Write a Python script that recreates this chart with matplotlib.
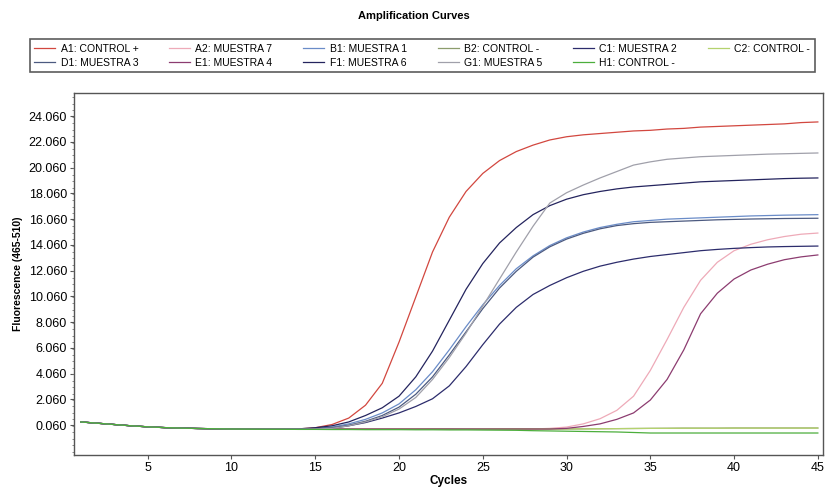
import numpy as np
import matplotlib
matplotlib.use('Agg')
import matplotlib.pyplot as plt
from matplotlib.ticker import FixedLocator, FuncFormatter, MultipleLocator

plt.rcParams['font.family'] = ['Liberation Sans Narrow', 'Liberation Sans', 'DejaVu Sans']

cycles = list(range(1, 46))

# fluorescence values per cycle (1..45)
a1_control_pos = [300, 200, 100, 0, -80, -140, -180, -210, -230, -250,
                  -250, -250, -250, -240, -150, 100, 600, 1600, 3300, 6500,
                  10000, 13500, 16200, 18200, 19600, 20600, 21300, 21800, 22200, 22450,
                  22600, 22700, 22800, 22900, 22950, 23050, 23100, 23200, 23250, 23300,
                  23350, 23400, 23450, 23550, 23600]
a2_muestra7 = [300, 200, 100, 0, -80, -140, -180, -210, -230, -250,
               -250, -250, -250, -250, -250, -250, -250, -250, -250, -250,
               -250, -250, -250, -250, -250, -250, -250, -250, -200, -100,
               150, 550, 1200, 2300, 4300, 6700, 9200, 11300, 12700, 13600,
               14100, 14450, 14700, 14880, 14970]
b1_muestra1 = [300, 200, 100, 0, -80, -140, -180, -210, -230, -250,
               -250, -250, -250, -250, -200, -100, 150, 500, 1000, 1700,
               2800, 4200, 5900, 7700, 9400, 10900, 12200, 13200, 14000, 14600,
               15050, 15400, 15650, 15850, 15950, 16050, 16100, 16150, 16200, 16250,
               16300, 16330, 16360, 16380, 16400]
b2_control_neg = [300, 200, 100, 0, -80, -140, -180, -210, -230, -250,
                  -250, -260, -260, -250, -250, -250, -260, -260, -250, -250,
                  -250, -240, -240, -250, -250, -240, -230, -240, -250, -250,
                  -240, -230, -220, -210, -200, -190, -180, -180, -180, -170,
                  -170, -170, -170, -170, -170]
c1_muestra2 = [300, 200, 100, 0, -80, -140, -180, -210, -230, -250,
               -250, -250, -250, -250, -250, -200, 0, 250, 600, 1000,
               1500, 2100, 3100, 4600, 6300, 7900, 9200, 10200, 10900, 11500,
               12000, 12400, 12700, 12950, 13150, 13300, 13450, 13600, 13700, 13780,
               13840, 13890, 13920, 13940, 13960]
c2_control_neg = [300, 200, 100, 0, -80, -140, -180, -210, -230, -250,
                  -260, -260, -260, -270, -270, -260, -260, -270, -270, -260,
                  -260, -260, -270, -270, -260, -250, -250, -250, -250, -240,
                  -240, -230, -220, -210, -200, -200, -190, -190, -190, -180,
                  -180, -180, -180, -180, -180]
d1_muestra3 = [300, 200, 100, 0, -80, -140, -180, -210, -230, -250,
               -250, -250, -250, -250, -220, -150, 50, 350, 800, 1450,
               2450, 3800, 5500, 7300, 9100, 10700, 12000, 13100, 13900, 14500,
               14950, 15300, 15550, 15700, 15800, 15850, 15900, 15950, 16000, 16030,
               16060, 16080, 16100, 16110, 16120]
e1_muestra4 = [300, 200, 100, 0, -80, -140, -180, -210, -230, -250,
               -250, -250, -250, -250, -250, -250, -250, -250, -250, -250,
               -250, -250, -250, -250, -250, -250, -250, -250, -250, -200,
               -50, 150, 500, 1000, 2000, 3600, 5900, 8700, 10300, 11400,
               12100, 12550, 12900, 13120, 13270]
f1_muestra6 = [300, 200, 100, 0, -80, -140, -180, -210, -230, -250,
               -250, -250, -250, -240, -150, 0, 300, 800, 1400, 2300,
               3800, 5800, 8200, 10600, 12600, 14200, 15400, 16400, 17100, 17600,
               17950, 18200, 18400, 18550, 18650, 18750, 18850, 18950, 19000, 19050,
               19100, 19150, 19200, 19230, 19250]
g1_muestra5 = [300, 200, 100, 0, -80, -140, -180, -210, -230, -250,
               -250, -250, -250, -250, -250, -200, 0, 300, 700, 1300,
               2200, 3600, 5300, 7200, 9300, 11400, 13500, 15500, 17300, 18100,
               18700, 19250, 19750, 20250, 20500, 20700, 20800, 20900, 20950, 21000,
               21050, 21100, 21130, 21160, 21190]
h1_control_neg = [300, 200, 100, 0, -80, -140, -180, -210, -230, -250,
                  -260, -270, -270, -280, -280, -290, -290, -300, -300, -300,
                  -310, -310, -320, -320, -330, -340, -350, -380, -400, -420,
                  -440, -460, -480, -520, -560, -560, -560, -560, -560, -560,
                  -560, -560, -560, -560, -560]

series = [
    ('A1: CONTROL +', a1_control_pos, '#d2473f'),
    ('A2: MUESTRA 7', a2_muestra7, '#eeaab8'),
    ('B1: MUESTRA 1', b1_muestra1, '#6a8cc8'),
    ('B2: CONTROL -', b2_control_neg, '#8c9c6c'),
    ('C1: MUESTRA 2', c1_muestra2, '#2c2c6c'),
    ('C2: CONTROL -', c2_control_neg, '#b4d26e'),
    ('D1: MUESTRA 3', d1_muestra3, '#4c5a80'),
    ('E1: MUESTRA 4', e1_muestra4, '#8c3c70'),
    ('F1: MUESTRA 6', f1_muestra6, '#24245e'),
    ('G1: MUESTRA 5', g1_muestra5, '#a0a0aa'),
    ('H1: CONTROL -', h1_control_neg, '#4cae3c'),
]

y_ticks = [60 + 2000 * i for i in range(13)]
x_ticks = [5, 10, 15, 20, 25, 30, 35, 40, 45]

fig = plt.figure(figsize=(8.27, 4.98), dpi=100)
ax = fig.add_axes([0.0895, 0.0863, 0.9055, 0.727])

handles = {}
for name, vals, color in series:
    line, = ax.plot(cycles, vals, color=color, lw=0.9, label=name)
    handles[name] = line

ax.set_xlim(0.6, 45.3)
ax.set_ylim(-2270, 25850)
ax.yaxis.set_major_locator(FixedLocator(y_ticks))
ax.yaxis.set_major_formatter(FuncFormatter(lambda v, p: f'{v / 1000:.3f}'))
ax.yaxis.set_minor_locator(MultipleLocator(500))
ax.xaxis.set_major_locator(FixedLocator(x_ticks))
ax.tick_params(axis='both', labelsize=9, length=3, color='#555555', pad=2)
ax.tick_params(axis='y', which='minor', length=1.5, color='#777777')
for sp in ax.spines.values():
    sp.set_color('#555555')
    sp.set_linewidth(1.0)

ax.set_xlabel('Cycles', fontsize=8.5, fontweight='bold', labelpad=1)
ax.set_ylabel('Fluorescence (465-510)', fontsize=7.5, fontweight='bold', labelpad=4)
fig.suptitle('Amplification Curves', x=0.5, y=0.978, fontsize=8, fontweight='bold')

# legend fills column-wise, so reorder to get the two rows right
order = ['A1: CONTROL +', 'D1: MUESTRA 3', 'A2: MUESTRA 7', 'E1: MUESTRA 4',
         'B1: MUESTRA 1', 'F1: MUESTRA 6', 'B2: CONTROL -', 'G1: MUESTRA 5',
         'C1: MUESTRA 2', 'H1: CONTROL -', 'C2: CONTROL -']
leg = fig.legend([handles[k] for k in order], order, ncol=6,
                 bbox_to_anchor=(0.036, 0.855, 0.949, 0.071), loc='lower left',
                 mode='expand', fontsize=7.5, frameon=True, fancybox=False,
                 handlelength=2.0, handletextpad=0.5, borderpad=0.45,
                 labelspacing=0.35, borderaxespad=0)
leg.get_frame().set_edgecolor('#333333')
leg.get_frame().set_linewidth(1.2)

fig.savefig('out.png', dpi=100)
